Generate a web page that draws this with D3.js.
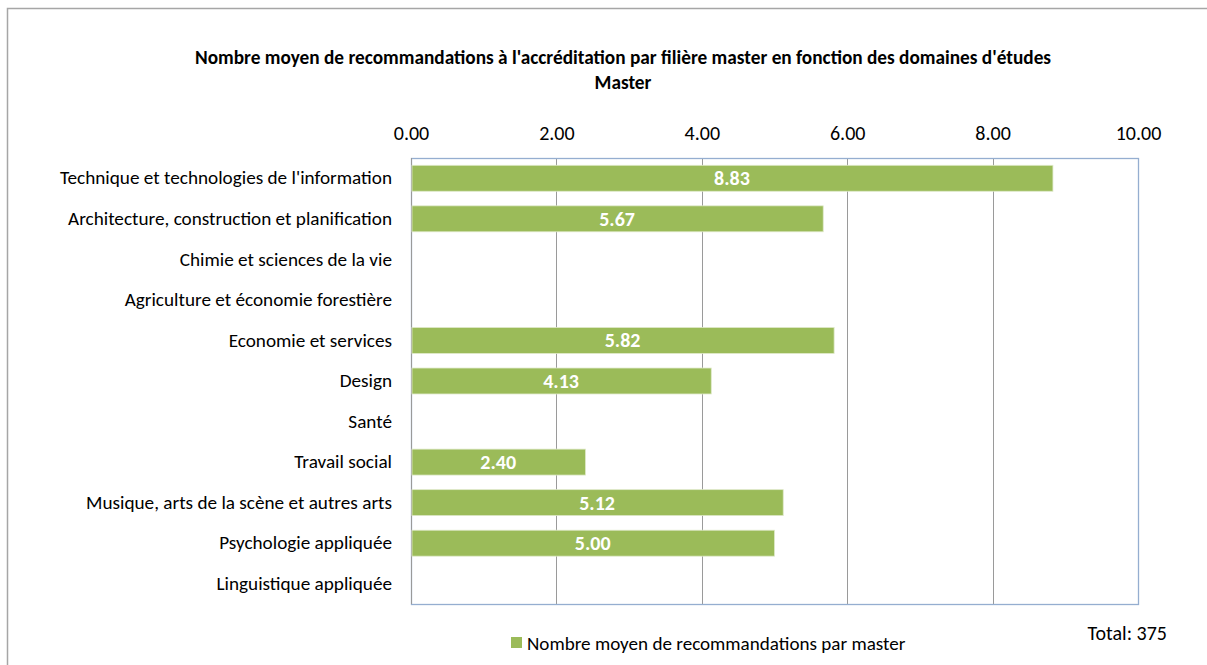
<!DOCTYPE html>
<html>
<head>
<meta charset="utf-8">
<script src="https://cdn.jsdelivr.net/npm/d3@7"></script>
<style>
  body { margin: 0; background: #fff; }
  svg { font-family: Carlito, Calibri, Lato, sans-serif; }
</style>
</head>
<body>
<div id="chart"></div>
<script>
// data
const categories = [
    "Technique et technologies de l'information",
    "Architecture, construction et planification",
    "Chimie et sciences de la vie",
    "Agriculture et économie forestière",
    "Economie et services",
    "Design",
    "Santé",
    "Travail social",
    "Musique, arts de la scène et autres arts",
    "Psychologie appliquée",
    "Linguistique appliquée",
];
const values = [8.83, 5.67, null, null, 5.82, 4.13, null, 2.40, 5.12, 5.00, null];
const xTicks = [0, 2, 4, 6, 8, 10];
const titleLines = [
    "Nombre moyen de recommandations à l'accréditation par filière master en fonction des domaines d'études",
    "Master",
];
const legendLabel = "Nombre moyen de recommandations par master";
const totalLabel = "Total: 375";

const W = 1207, H = 665;
const margin = { top: 158, right: 69, bottom: 61, left: 411 };
const width = W - margin.left - margin.right;
const height = H - margin.top - margin.bottom;
const barColor = "#9bbb59";

const svg = d3.select("#chart").append("svg").attr("width", W).attr("height", H);

// outer chart-area frame
svg.append("rect")
    .attr("x", 7.5).attr("y", 8.5)
    .attr("width", 1220).attr("height", 700)
    .attr("fill", "#fff").attr("stroke", "#a6a6a6").attr("stroke-width", 1.5);

svg.selectAll(".title")
    .data(titleLines)
    .join("text")
    .attr("class", "title")
    .attr("x", 623)
    .attr("y", (d, i) => 57 + i * 25)
    .attr("dy", "0.35em")
    .attr("text-anchor", "middle")
    .attr("font-weight", "bold")
    .attr("font-size", 19.3)
    .attr("fill", "#000")
    .text((d) => d);

const chart = svg.append("g").attr("transform", `translate(${margin.left},${margin.top})`);

const xScale = d3.scaleLinear().domain([0, 10]).range([0, width]);
const yScale = d3.scaleBand().domain(categories).range([0, height]).paddingInner(0.36).paddingOuter(0.18);

// gridlines
chart.selectAll(".grid")
    .data(xTicks.filter((d) => d > 0 && d < 10))
    .join("line")
    .attr("class", "grid")
    .attr("x1", (d) => Math.round(xScale(d)) + 0.5)
    .attr("x2", (d) => Math.round(xScale(d)) + 0.5)
    .attr("y1", 0).attr("y2", height)
    .attr("stroke", "#9a9a9a").attr("stroke-width", 1);

// plot border
chart.append("rect")
    .attr("x", 0.5).attr("y", 0.5)
    .attr("width", width).attr("height", height)
    .attr("fill", "none").attr("stroke", "#95aed0").attr("stroke-width", 1.3);
chart.append("line")
    .attr("x1", 0.5).attr("x2", 0.5).attr("y1", 0).attr("y2", height)
    .attr("stroke", "#9a9a9a");

const barData = categories.map((c, i) => ({ cat: c, value: values[i] })).filter((d) => d.value != null);

chart.selectAll(".bar")
    .data(barData)
    .join("rect")
    .attr("class", "bar")
    .attr("x", 1)
    .attr("y", (d) => yScale(d.cat))
    .attr("width", (d) => xScale(d.value) - 1)
    .attr("height", yScale.bandwidth())
    .attr("fill", barColor)
    .attr("stroke", "#dfe9c9").attr("stroke-width", 0.8);

chart.selectAll(".bar-value")
    .data(barData)
    .join("text")
    .attr("class", "bar-value")
    .attr("x", (d) => xScale(d.value) / 2)
    .attr("y", (d) => yScale(d.cat) + yScale.bandwidth() / 2)
    .attr("dy", "0.35em")
    .attr("text-anchor", "middle")
    .attr("font-weight", "bold")
    .attr("font-size", 20)
    .attr("fill", "#fff")
    .text((d) => d3.format(".2f")(d.value));

// top value axis
const xAxis = chart.append("g")
    .call(d3.axisTop(xScale).tickValues(xTicks).tickSize(0).tickPadding(18).tickFormat(d3.format(".2f")));
xAxis.attr("font-family", null).attr("font-size", 20);
xAxis.select(".domain").remove();
xAxis.selectAll("text").attr("fill", "#000");

// category axis
const yAxis = chart.append("g")
    .call(d3.axisLeft(yScale).tickSize(0).tickPadding(19));
yAxis.attr("font-family", null).attr("font-size", 19.2);
yAxis.select(".domain").remove();
yAxis.selectAll("text").attr("fill", "#000");

// legend
const legend = svg.append("g").attr("transform", "translate(511,637)");
legend.append("rect").attr("width", 11).attr("height", 11).attr("fill", barColor);
legend.append("text")
    .attr("x", 16).attr("y", 6).attr("dy", "0.35em")
    .attr("font-size", 19.1).attr("fill", "#000")
    .text(legendLabel);

svg.append("text")
    .attr("x", 1167).attr("y", 633).attr("dy", "0.35em")
    .attr("text-anchor", "end")
    .attr("font-size", 20).attr("fill", "#000")
    .text(totalLabel);
</script>
</body>
</html>
